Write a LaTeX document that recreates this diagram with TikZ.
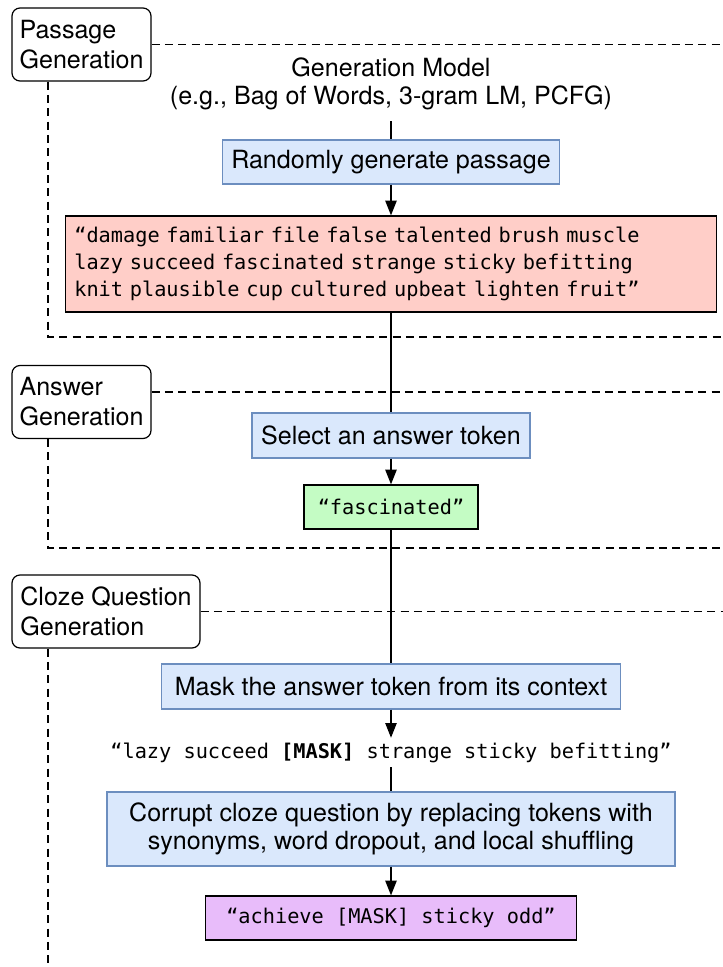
\documentclass[tikz,border=0pt]{standalone}
\usepackage{fontspec}
\setmainfont{TeX Gyre Heros}
\newfontfamily\monof{DejaVu Sans Mono}
\usetikzlibrary{arrows.meta}
\definecolor{bluefill}{HTML}{DAE8FC}
\definecolor{bluedraw}{HTML}{6C8EBF}
\definecolor{pinkfill}{HTML}{FFCEC8}
\definecolor{greenfill}{HTML}{C4FCC4}
\definecolor{purplefill}{HTML}{E8BCFA}
\begin{document}
\begin{tikzpicture}[x=0.75pt,y=-0.75pt,
  stagebox/.style={draw, rounded corners=6pt, line width=0.9pt, align=left,
    font=\fontsize{18.8}{22.5}\selectfont, inner sep=0pt, minimum height=54.75pt},
  procbox/.style={draw=bluedraw, fill=bluefill, line width=0.9pt, align=center,
    font=\fontsize{18.8}{21}\selectfont, inner sep=0pt},
  databox/.style={draw, line width=0.9pt, inner sep=0pt,
    font=\monof\fontsize{15.2}{20.25}\selectfont},
  plaintext/.style={inner sep=0pt, align=center},
  sepline/.style={dash pattern=on 6pt off 4pt, line width=0.8pt},
  flow/.style={line width=0.9pt},
  flowarrow/.style={line width=0.9pt, -{Triangle[length=11pt,width=8.5pt]}}
]
\useasboundingbox (0,0) rectangle (723,967);

% stage labels
\node[stagebox, minimum width=104.25pt] (pass) at (81.5,44.5) {Passage\\Generation};
\node[stagebox, minimum width=104.25pt] (ans) at (81.5,402) {Answer\\Generation};
\node[stagebox, minimum width=141pt] (cloze) at (106,611.5) {Cloze Question\\Generation};

% separators
\coordinate (r1) at (723,44.5);
\coordinate (b1) at (48,337);
\coordinate (b1r) at (723,337);
\coordinate (r2) at (723,392);
\coordinate (b2) at (48,548);
\coordinate (b2r) at (723,548);
\coordinate (r3) at (723,611.5);
\coordinate (b3) at (48,965);

\draw[sepline] (pass.east) -- (r1);
\draw[sepline] (pass.south -| b1) -- (b1) -- (b1r);
\draw[sepline] (ans.east |- r2) -- (r2);
\draw[sepline] (ans.south -| b2) -- (b2) -- (b2r);
\draw[sepline] (cloze.east) -- (r3);
\draw[sepline] (cloze.south -| b3) -- (b3);

% main flow
\node[plaintext, font=\fontsize{18.8}{21.5}\selectfont, minimum height=55.5pt] (gm) at (391,84)
  {Generation Model\\(e.g., Bag of Words, 3-gram LM, PCFG)};
\node[procbox, minimum width=252.75pt, minimum height=33pt] (rand) at (391,162) {Randomly generate passage};
\node[databox, fill=pinkfill, text width=475pt, inner xsep=6.8pt, minimum height=72pt, align=left] (pass text) at (391,264)
  {“damage familiar file false talented brush muscle\\lazy succeed fascinated strange sticky befitting\\knit plausible cup cultured upbeat lighten fruit”};
\node[procbox, minimum width=208.5pt, minimum height=33.75pt] (sel) at (391,435.5) {Select an answer token};
\node[databox, fill=greenfill, minimum width=130.5pt, minimum height=33pt] (answer) at (391,507) {“fascinated”};
\node[procbox, minimum width=344.25pt, minimum height=33.75pt] (mask) at (391,686.5) {Mask the answer token from its context};
\node[plaintext, font=\monof\fontsize{15.2}{20.25}\selectfont, minimum height=21.75pt] (lazy) at (391,752.5)
  {“lazy succeed \textbf{[MASK]} strange sticky befitting”};
\node[procbox, minimum width=426pt, minimum height=55.5pt] (corrupt) at (391,829)
  {Corrupt cloze question by replacing tokens with\\synonyms, word dropout, and local shuffling};
\node[databox, fill=purplefill, minimum width=278.25pt, minimum height=33pt] (final) at (391,918) {“achieve [MASK] sticky odd”};

\draw[flow] (gm) -- (rand);
\draw[flowarrow] (rand) -- (pass text);
\draw[flow] (pass text) -- (sel);
\draw[flowarrow] (sel) -- (answer);
\draw[flow] (answer) -- (mask);
\draw[flowarrow] (mask) -- (lazy);
\draw[flow] (lazy) -- (corrupt);
\draw[flowarrow] (corrupt) -- (final);
\end{tikzpicture}
\end{document}
